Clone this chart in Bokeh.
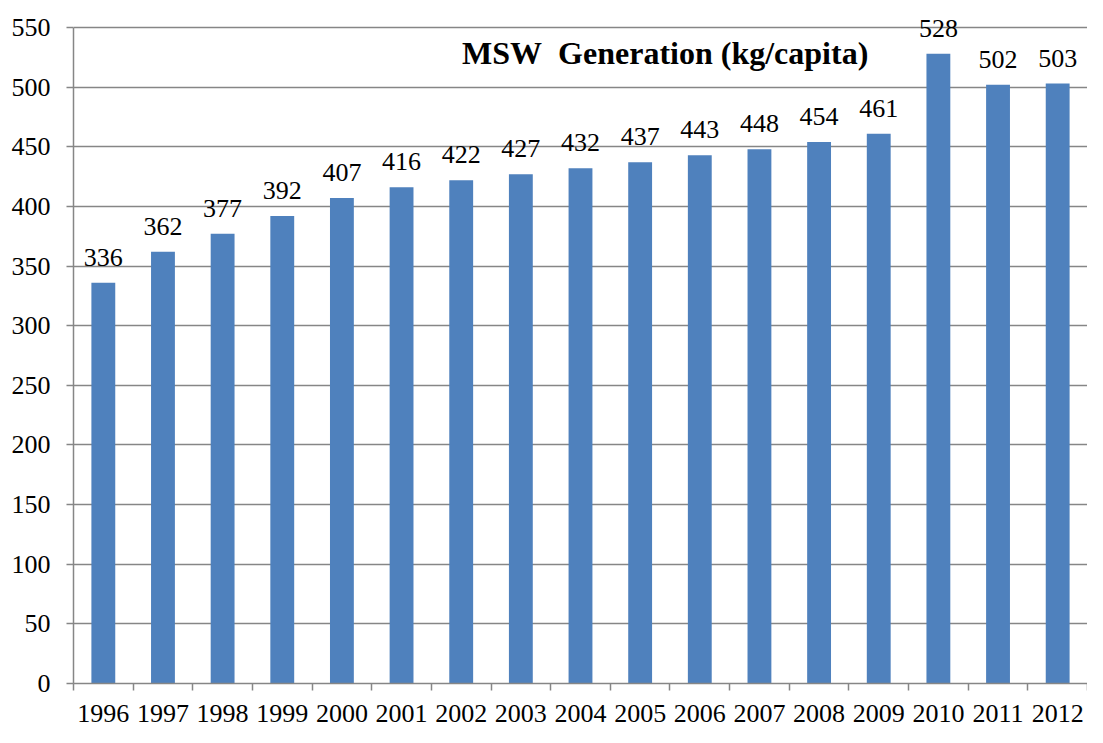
from bokeh.plotting import figure
from bokeh.models import Range1d, FixedTicker, ColumnDataSource, LabelSet, Label
from bokeh.core.properties import value
from bokeh.embed import file_html
from bokeh.resources import INLINE

years = ["1996", "1997", "1998", "1999", "2000", "2001", "2002", "2003", "2004",
         "2005", "2006", "2007", "2008", "2009", "2010", "2011", "2012"]
msw = [336, 362, 377, 392, 407, 416, 422, 427, 432, 437, 443, 448, 454, 461, 528, 502, 503]
y_ticks = list(range(0, 551, 50))
title_text = "MSW\u00a0 Generation (kg/capita)"

FONT = "Liberation Serif"
GRAY = "#868686"

idx = list(range(len(years)))
src = ColumnDataSource(dict(x=idx, top=msw, label=[str(v) for v in msw]))

p = figure(width=1087, height=727, output_backend="svg", toolbar_location=None,
           x_range=Range1d(-0.5, 16.5), y_range=Range1d(0, 569.3),
           min_border_left=73, min_border_right=0, min_border_top=4,
           min_border_bottom=44)
p.outline_line_color = None
p.background_fill_color = "white"
p.border_fill_color = "white"

p.vbar(x="x", top="top", width=0.4, bottom=0, source=src,
       fill_color="#4F81BD", line_color=None)

# grid
p.xgrid.grid_line_color = None
p.ygrid.ticker = FixedTicker(ticks=y_ticks)
p.ygrid.grid_line_color = GRAY
p.ygrid.grid_line_width = 1.5
p.ygrid.level = "underlay"

# y axis
p.yaxis.ticker = FixedTicker(ticks=y_ticks)
p.yaxis.bounds = (0, 550)
p.yaxis.axis_line_color = GRAY
p.yaxis.axis_line_width = 1.5
p.yaxis.major_tick_line_color = GRAY
p.yaxis.major_tick_line_width = 1.5
p.yaxis.major_tick_out = 7
p.yaxis.major_tick_in = 0
p.yaxis.minor_tick_line_color = None
p.yaxis.major_label_standoff = 16
p.yaxis.major_label_text_font = FONT
p.yaxis.major_label_text_font_size = "26px"
p.yaxis.major_label_text_color = "black"

# x axis
p.xaxis.ticker = FixedTicker(ticks=idx, minor_ticks=[i - 0.5 for i in range(len(years) + 1)])
p.xaxis.major_label_overrides = {i: y for i, y in zip(idx, years)}
p.xaxis.axis_line_color = GRAY
p.xaxis.axis_line_width = 1.5
p.xaxis.major_tick_line_color = None
p.xaxis.major_tick_out = 0
p.xaxis.major_tick_in = 0
p.xaxis.minor_tick_line_color = GRAY
p.xaxis.minor_tick_line_width = 1.5
p.xaxis.minor_tick_out = 7
p.xaxis.minor_tick_in = 0
p.xaxis.major_label_standoff = 14
p.xaxis.major_label_text_font = FONT
p.xaxis.major_label_text_font_size = "26px"
p.xaxis.major_label_text_color = "black"

labels = LabelSet(x="x", y="top", text="label", source=src, text_align="center",
                  text_baseline="alphabetic", y_offset=17, text_font=value(FONT),
                  text_font_size=value("26px"), text_color=value("black"))
p.add_layout(labels)

title = Label(x=9.42, y=529, text=title_text, text_align="center",
              text_baseline="alphabetic", text_font=FONT, text_font_size="32px",
              text_font_style="bold", text_color="black")
p.add_layout(title)

open("out.html", "w").write(file_html(p, INLINE))
